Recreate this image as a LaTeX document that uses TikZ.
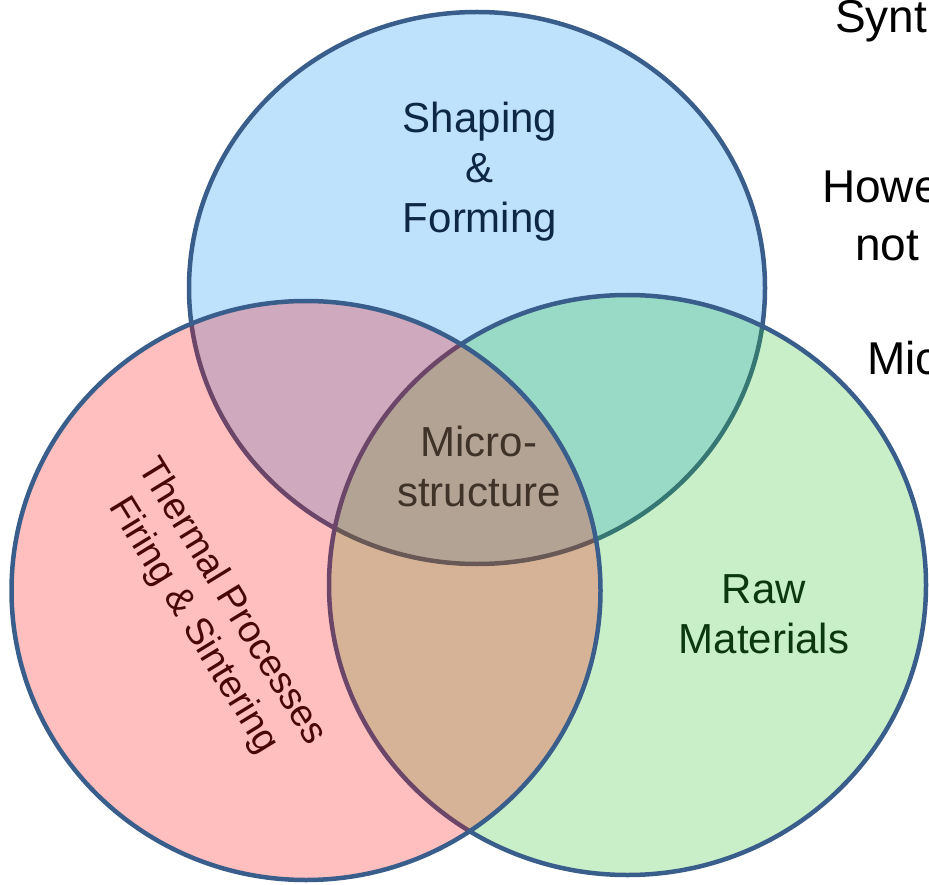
\documentclass[tikz,border=0pt]{standalone}
\usepackage{fontspec}
\setmainfont{Liberation Sans}
\definecolor{edgec}{RGB}{58,94,140}
\definecolor{bluef}{RGB}{0,143,247}
\definecolor{greenf}{RGB}{43,195,43}
\definecolor{redf}{RGB}{255,2,2}
\definecolor{shapec}{RGB}{13,40,68}
\definecolor{microc}{RGB}{62,50,41}
\definecolor{rawc}{RGB}{12,56,16}
\definecolor{thermc}{RGB}{74,6,6}
\tikzset{
  setc/.style={draw=edgec, line width=4.5pt, fill opacity=0.25},
  lab/.style={align=center, inner sep=0pt, font=\fontsize{42}{50}\selectfont},
  side/.style={inner sep=0pt, text=black, font=\fontsize{46}{50}\selectfont, anchor=base west}
}
\begin{document}
\begin{tikzpicture}[x=1pt,y=-1pt]
\useasboundingbox (0,0) rectangle (929,885);
\fill[white] (0,0) rectangle (929,885);
\begin{scope}
\clip (0,0) rectangle (929,885);
% sets: blue (top), green (right), red (left)
\draw[setc, fill=bluef] (477,288) ellipse [x radius=288pt, y radius=276pt];
\draw[setc, fill=greenf] (627.5,585) ellipse [x radius=298.5pt, y radius=290pt];
\draw[setc, fill=redf] (306,590.5) ellipse [x radius=294.5pt, y radius=289.5pt];
% labels
\node[lab, text=shapec] (shape) at (480,172) {Shaping\\\&\\Forming};
\node[lab, text=microc] (micro) at (479,466) {Micro-\\structure};
\node[lab, text=rawc] (raw) at (764,614) {Raw\\Materials};
\node[lab, text=thermc, rotate=-58.5, font=\fontsize{38}{45}\selectfont] (therm) at (212,614) {Thermal Processes\\Firing \& Sintering};
% clipped text at the right border
\node[side] (t1) at (835,33) {Synt};
\node[side] (t2) at (822,203) {Howe};
\node[side] (t3) at (855,261) {not};
\node[side] (t4) at (867,374) {Mic};
\end{scope}
\end{tikzpicture}
\end{document}
